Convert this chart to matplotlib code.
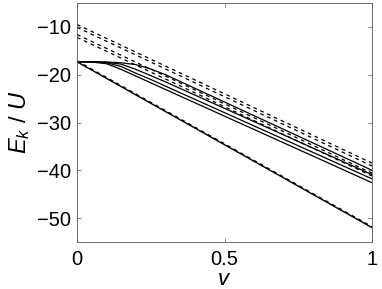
import matplotlib
matplotlib.use('Agg')
import matplotlib.pyplot as plt

plt.rcParams['font.family'] = ['Liberation Sans', 'DejaVu Sans']
plt.rcParams['mathtext.fontset'] = 'custom'
plt.rcParams['mathtext.it'] = 'Liberation Sans:italic'
plt.rcParams['mathtext.rm'] = 'Liberation Sans'

# dashed levels: straight lines, value at v=0 and v=1
dashed_v = [0.0, 1.0]
dashed_E = [
    [-9.5, -38.5],
    [-10.1, -39.1],
    [-11.6, -40.6],
    [-12.2, -41.2],
    [-17.1, -51.8],
]

# solid levels: flat start, then bend down
solid_v = [0.0, 0.05, 0.1, 0.15, 0.2, 0.25, 0.3, 1.0]
solid_E = [
    [-17.3, -17.3, -17.35, -17.5, -17.9, -18.8, -20.0, -40.0],
    [-17.3, -17.3, -17.4, -17.8, -18.9, -20.2, -21.5, -40.9],
    [-17.3, -17.32, -17.5, -18.3, -19.7, -21.0, -22.4, -41.8],
    [-17.3, -17.35, -17.7, -18.9, -20.3, -21.7, -23.1, -42.6],
]
bottom_v = [0.0, 1.0]
bottom_E = [-17.3, -52.0]

fig = plt.figure(figsize=(3.82, 2.89), dpi=100)
ax = fig.add_axes([0.2016, 0.1626, 0.7724, 0.827])

for E in dashed_E:
    ax.plot(dashed_v, E, 'k--', lw=0.9, dashes=(3, 3))
for E in solid_E:
    ax.plot(solid_v, E, 'k-', lw=0.9)
ax.plot(bottom_v, bottom_E, 'k-', lw=1.0)

ax.set_xlim(0, 1)
ax.set_ylim(-55, -5)
ax.set_xticks([0, 0.5, 1])
ax.set_xticklabels(['0', '0.5', '1'])
ax.set_yticks([-50, -40, -30, -20, -10])
ax.tick_params(direction='in', top=True, right=True, labelsize=14.5,
               length=3, width=0.5, colors='#555555', labelcolor='black')
ax.tick_params(axis='x', pad=6)
ax.tick_params(axis='y', pad=4)
for s in ax.spines.values():
    s.set_linewidth(0.6)
    s.set_color('#555555')

ax.set_xlabel('$v$', fontsize=16)
ax.xaxis.set_label_coords(0.5, -0.115)
ax.set_ylabel('$E_k$ / $U$', fontsize=17, labelpad=4)

fig.savefig('out.png', dpi=100)
